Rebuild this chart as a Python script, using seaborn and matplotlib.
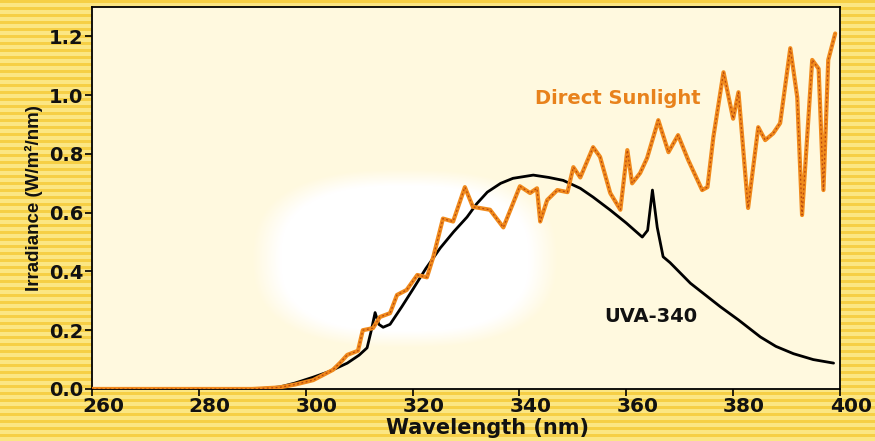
import numpy as np
import pandas as pd
import matplotlib
matplotlib.use("Agg")
import matplotlib.pyplot as plt
import matplotlib.transforms as mtransforms
import seaborn as sns

# Spectral data
uva_wl = [260, 290, 293, 295.2, 298, 301.4, 304.5, 307.8, 310, 311.5, 312.3, 313, 313.7,
          314.5, 315.8, 318, 320.1, 322.5, 325.2, 327.7, 330.2, 332, 334, 336.5, 338.8,
          342.6, 345.5, 348.2, 351.4, 353.8, 357, 360, 363, 364, 364.9, 365.8, 366.9,
          368.2, 372, 377.6, 381, 385.1, 388, 391.3, 395, 398.8]
uva_irr = [0, 0, 0.003, 0.007, 0.02, 0.04, 0.06, 0.088, 0.115, 0.14, 0.2, 0.26, 0.22,
           0.21, 0.22, 0.28, 0.34, 0.41, 0.48, 0.535, 0.585, 0.63, 0.67, 0.70, 0.717,
           0.728, 0.72, 0.71, 0.683, 0.653, 0.609, 0.565, 0.517, 0.54, 0.677, 0.55, 0.45,
           0.43, 0.36, 0.28, 0.235, 0.177, 0.145, 0.12, 0.10, 0.088]

sun_wl = [260, 290, 295, 298, 301.4, 303, 305.1, 306.5, 307.8, 309.8, 310.7, 312.6, 313.9,
          315.8, 317.1, 318.9, 320.9, 322.7, 323.9, 325.7, 327.6, 329.8, 331.3, 334.5, 337,
          340.1, 342, 343.3, 343.9, 345.2, 347.1, 349, 350.1, 351.4, 353.8, 355.1, 357,
          358.9, 360.2, 361.1, 362.6, 363.9, 366, 367.9, 369.7, 371.6, 374.2, 375.2, 376.3,
          378.2, 380, 381, 382.8, 384.7, 386, 387.5, 388.8, 390.7, 392, 392.9, 394.8, 396,
          396.9, 397.8, 399.1]
sun_irr = [0, 0, 0.005, 0.015, 0.03, 0.045, 0.065, 0.09, 0.116, 0.13, 0.2, 0.207, 0.245,
           0.258, 0.32, 0.337, 0.388, 0.38, 0.45, 0.58, 0.57, 0.687, 0.62, 0.61, 0.55,
           0.69, 0.667, 0.683, 0.57, 0.643, 0.677, 0.67, 0.755, 0.72, 0.823, 0.79, 0.667,
           0.61, 0.813, 0.70, 0.735, 0.786, 0.915, 0.806, 0.864, 0.779, 0.677, 0.687, 0.857,
           1.078, 0.92, 1.01, 0.616, 0.891, 0.847, 0.87, 0.905, 1.16, 0.993, 0.592, 1.12, 1.09,
           0.677, 1.12, 1.21]

x_ticks = [260, 280, 300, 320, 340, 360, 380, 400]
y_ticks = [0.0, 0.2, 0.4, 0.6, 0.8, 1.0, 1.2]

uva = pd.DataFrame({"wl": uva_wl, "irr": uva_irr})
sun = pd.DataFrame({"wl": sun_wl, "irr": sun_irr})

sns.set_theme(style="ticks")
plt.rcParams["font.family"] = ["DejaVu Sans"]
plt.rcParams["font.weight"] = "bold"

fig = plt.figure(figsize=(8.75, 4.41), dpi=100)

# striped yellow page background
bg = fig.add_axes([0, 0, 1, 1], zorder=-10)
rows = np.arange(441)
stripe = np.where(rows % 7 < 3, 0.0, 1.0)[:, None] * np.ones((1, 10))
cmap = matplotlib.colors.LinearSegmentedColormap.from_list("yel", ["#f6cf45", "#fbe683"])
bg.imshow(stripe, cmap=cmap, aspect="auto", interpolation="nearest")
bg.axis("off")

ax = fig.add_axes([0.105, 0.118, 0.855, 0.866])
ax.set_facecolor("#fff9df")

# soft white glow behind the curves
gx, gy = np.meshgrid(np.linspace(-1.15, 1.15, 300), np.linspace(-1.15, 1.15, 200))
r = (np.abs(gx) ** 2.6 + np.abs(gy) ** 2.6) ** (1 / 2.6)
alpha = np.clip((1.08 - r) / 0.2, 0, 1)
glow = np.ones((200, 300, 4))
glow[..., 3] = alpha
ax.imshow(glow, extent=(288, 349, 0.12, 0.77), aspect="auto", zorder=0, interpolation="bilinear")

sns.lineplot(data=uva, x="wl", y="irr", ax=ax, color="black", lw=2.0, zorder=3,
             estimator=None, sort=False)
sns.lineplot(data=sun, x="wl", y="irr", ax=ax, color="#f08a1c", lw=3.0, zorder=4,
             estimator=None, sort=False)
sns.lineplot(data=sun, x="wl", y="irr", ax=ax, color="#b8480e", lw=0.9, zorder=5,
             estimator=None, sort=False, dashes=False, linestyle=(0, (1.5, 2)))

ax.text(343, 0.99, "Direct Sunlight", color="#e8821c", fontsize=14, fontweight="bold",
        va="center", ha="left")
ax.text(355.8, 0.245, "UVA-340", color="#111111", fontsize=14, fontweight="bold",
        va="center", ha="left")

ax.set_xlim(260, 400)
ax.set_ylim(0, 1.3)
ax.set_xticks(x_ticks)
ax.set_yticks(y_ticks)
ax.set_xticklabels([str(t) for t in x_ticks], fontsize=14.5, fontweight="bold", color="#111111")
ax.set_yticklabels([f"{t:.1f}" for t in y_ticks], fontsize=14, fontweight="bold", color="#111111")
ax.tick_params(direction="out", length=5, width=1.2, color="black", pad=1)
shift = mtransforms.ScaledTranslation(0.11, 0, fig.dpi_scale_trans)
for lab in ax.get_xticklabels():
    lab.set_transform(lab.get_transform() + shift)
ax.set_xlabel("Wavelength (nm)", fontsize=15, fontweight="bold", color="#111111")
ax.xaxis.set_label_coords(0.529, -0.075)
ax.set_ylabel("Irradiance (W/m²/nm)", fontsize=13.5, fontweight="bold", labelpad=4,
              color="#111111", family="Liberation Sans")
for sp in ax.spines.values():
    sp.set_color("black")
    sp.set_linewidth(1.3)
    sp.set_visible(True)
ax.grid(False)

fig.savefig("out.png", dpi=100)
